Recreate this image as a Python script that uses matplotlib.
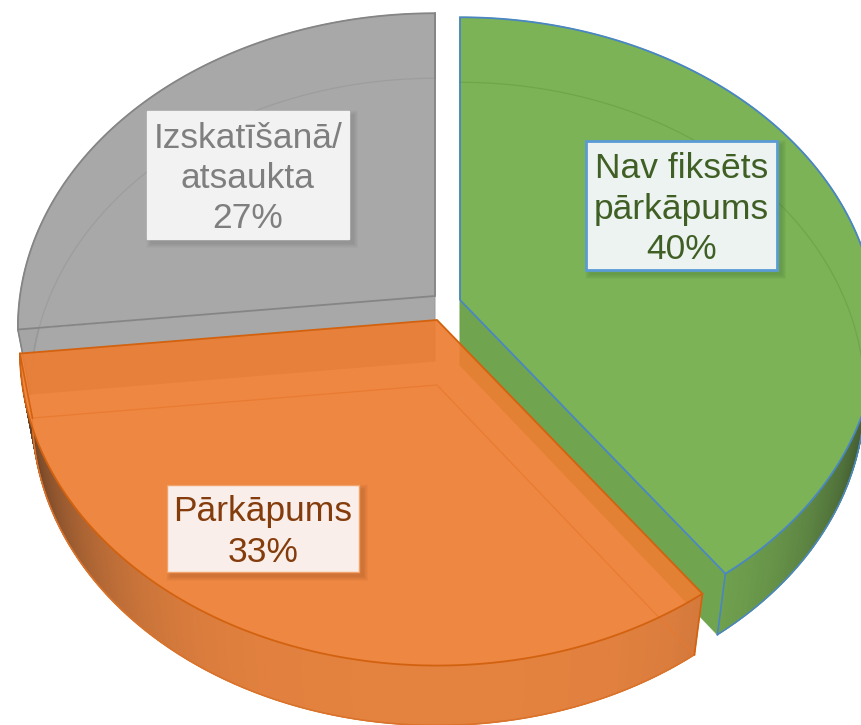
import numpy as np
import matplotlib
matplotlib.use("Agg")
import matplotlib.pyplot as plt
from matplotlib.patches import Polygon, Rectangle
from matplotlib.path import Path
from matplotlib.colors import to_rgb, LinearSegmentedColormap

# ---- data ----
categories = ["Nav fiksēts\npārkāpums", "Pārkāpums", "Izskatīšanā/\natsaukta"]
shares = [40.0, 33.3, 26.7]
face_colors = ["#70AD47", "#ED7D31", "#A5A5A5"]
edge_colors = ["#4A86C4", "#D2620F", "#858585"]
rim_colors = ["#4A86C4", "#D9722A", "#989898"]
faint_colors = ["#6CA34A", "#E8782F", "#9B9B9B"]
text_colors = ["#3F5F25", "#843C0C", "#7F7F7F"]
box_fills = ["#EDF3F0", "#F9EEE9", "#F2F2F2"]
box_edges = ["#5B9BD5", "#F3A26A", "#F2F2F2"]
opacities = [0.92, 0.92, 0.97]

# ---- layout (pixel space of the picture) ----
W, H = 861, 725
apexes = [(460, 300), (437, 320), (435, 296)]
label_boxes = [(586, 141, 777, 270), (167, 485, 359, 572), (147, 111, 349, 239)]
RX, RY, K = 415.0, 311.0, 0.10
DEPTH, XS = 65.0, 0.97

plt.rcParams["font.family"] = ["Liberation Sans", "DejaVu Sans"]
fig = plt.figure(figsize=(W / 100, H / 100), dpi=100)
ax = fig.add_axes([0, 0, 1, 1])
ax.set_xlim(0, W)
ax.set_ylim(H, 0)
ax.axis("off")


def rim(theta, apex, lower=False):
    X, Y = np.sin(theta), np.cos(theta)
    d = 1 + K * Y
    dx, dy = RX * X / d, -RY * Y / d
    if lower:
        ys = np.where(dy > 0, 0.985, 1.0)
        return np.column_stack([apex[0] + XS * dx, apex[1] + DEPTH + ys * dy])
    return np.column_stack([apex[0] + dx, apex[1] + dy])


def outside_path(poly):
    rect = np.array([(-50, -50), (W + 50, -50), (W + 50, H + 50), (-50, H + 50)], float)
    area = lambda p: np.sum(p[:, 0] * np.roll(p[:, 1], -1) - np.roll(p[:, 0], -1) * p[:, 1])
    if area(poly) * area(rect) > 0:
        poly = poly[::-1]
    verts = np.vstack([rect, rect[:1], poly, poly[:1]])
    codes = ([Path.MOVETO] + [Path.LINETO] * 3 + [Path.CLOSEPOLY]
             + [Path.MOVETO] + [Path.LINETO] * (len(poly) - 1) + [Path.CLOSEPOLY])
    return Path(verts, codes)


fractions = np.cumsum([0] + shares) / sum(shares) * 2 * np.pi

for i in [2, 0, 1]:
    a0, a1 = fractions[i], fractions[i + 1]
    alpha = opacities[i]
    apex = np.array(apexes[i], float)
    apex_low = apex + [0, DEPTH]
    th = np.linspace(a0, a1, 240)
    top = rim(th, apex)
    low = rim(th, apex, lower=True)
    face = to_rgb(face_colors[i])
    top_poly = np.vstack([apex, top])
    clip = outside_path(top_poly)
    z = 2 + [1, 2, 0][i] * 10

    # curved outer side, shaded along the rim (grey side stays hidden and flat)
    shade = 0.95 - 0.6 * np.abs(np.sin(th)) ** 4 if i != 2 else np.ones_like(th)
    mixed = tuple(alpha * c + (1 - alpha) for c in face)
    cmap = LinearSegmentedColormap.from_list("side", [(1 - alpha,) * 3, mixed])
    mesh = ax.pcolormesh(np.vstack([top[:, 0], low[:, 0]]), np.vstack([top[:, 1], low[:, 1]]),
                         np.vstack([shade, shade]), shading="gouraud", cmap=cmap,
                         vmin=0, vmax=1, zorder=z)
    mesh.set_clip_path(clip, ax.transData)

    # cut wall that shows outside the top face (the orange slice's walls stay behind it)
    if i != 1:
        wall_angle = a0 if i == 2 else a1
        t = rim(np.array([wall_angle]), apex)[0]
        b = rim(np.array([wall_angle]), apex, lower=True)[0]
        wall = Polygon([apex, t, b, apex_low], closed=True, lw=0, zorder=z,
                       fc=tuple(c * 0.90 for c in face) if i == 0 else face, alpha=alpha)
        ax.add_patch(wall)
        wall.set_clip_path(clip, ax.transData)

    # top face
    ax.add_patch(Polygon(top_poly, closed=True, fc=face, ec="none", alpha=alpha, zorder=z + 1))
    # see-through outline of the lower face
    faint = np.vstack([low[:1], apex_low, low[-1:]])
    ax.plot(faint[:, 0], faint[:, 1], color=faint_colors[i], lw=0.9, alpha=0.8, zorder=z + 2)
    ax.plot(low[:, 0], low[:, 1], color=faint_colors[i], lw=0.9, alpha=0.8, zorder=z + 2)
    outer, = ax.plot(low[:, 0], low[:, 1], color=rim_colors[i], lw=1.1, zorder=z + 2)
    outer.set_clip_path(clip, ax.transData)
    # strong outline of the top face
    ax.add_patch(Polygon(top_poly, closed=True, fc="none", ec=edge_colors[i], lw=1.3, zorder=z + 3))
    # side edges
    for idx in (0, -1):
        if i == 0 and idx == 0:
            continue
        ax.plot([top[idx, 0], low[idx, 0]], [top[idx, 1], low[idx, 1]],
                color=edge_colors[i], lw=1.2, zorder=z + 3)

# ---- labels ----
for i, (cat, sh) in enumerate(zip(categories, shares)):
    x0, y0, x1, y1 = label_boxes[i]
    for grow in np.arange(10, 0, -1.0):
        ax.add_patch(Rectangle((x0 + 4 - grow / 2, y0 + 4 - grow / 2), x1 - x0 + grow, y1 - y0 + grow,
                               fc="black", ec="none", alpha=0.012, zorder=50))
    ax.add_patch(Rectangle((x0, y0), x1 - x0, y1 - y0, fc=box_fills[i], ec=box_edges[i],
                           lw=2 if i == 0 else 1, zorder=51))
    ax.text((x0 + x1) / 2, (y0 + y1) / 2 + 3.5, f"{cat}\n{sh:.0f}%", ha="center", va="center",
            ma="center", fontsize=25.5, linespacing=1.28, color=text_colors[i], zorder=52)

fig.savefig("out.png", dpi=100)
